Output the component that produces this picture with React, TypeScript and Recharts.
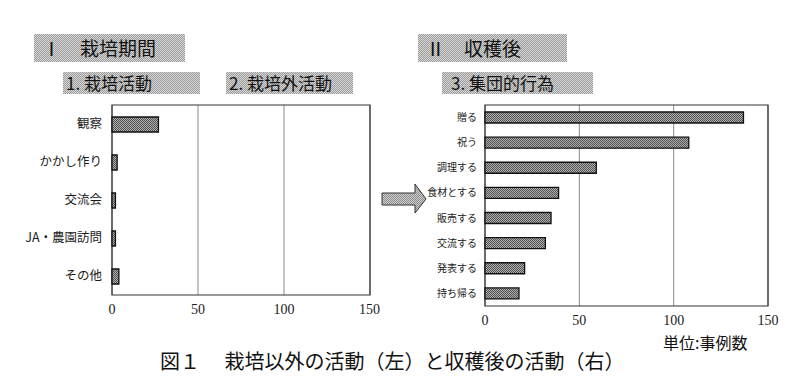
import React from "react";
import {
  BarChart,
  Bar,
  XAxis,
  YAxis,
  CartesianGrid,
  ReferenceArea,
} from "recharts";

// 栽培以外の活動（左）
const cultivationCategories = ["観察", "かかし作り", "交流会", "JA・農園訪問", "その他"];
const cultivationValues = [27, 3, 2, 2, 4];

// 収穫後の活動（右）
const harvestCategories = [
  "贈る",
  "祝う",
  "調理する",
  "食材とする",
  "販売する",
  "交流する",
  "発表する",
  "持ち帰る",
];
const harvestValues = [137, 108, 59, 39, 35, 32, 21, 18];

const xTicks = [0, 50, 100, 150];

const leftData = cultivationCategories.map((name, i) => ({
  name,
  value: cultivationValues[i],
}));
const rightData = harvestCategories.map((name, i) => ({
  name,
  value: harvestValues[i],
}));

const jp = '"Noto Sans CJK JP", "Noto Sans", sans-serif';
const serif = '"Liberation Serif", "DejaVu Serif", serif';

// 網掛け（ディザ風）の背景
const hatch = (dark: string, light: string): React.CSSProperties => ({
  backgroundColor: light,
  backgroundImage: `repeating-conic-gradient(${dark} 0% 25%, ${light} 0% 50%)`,
  backgroundSize: "2px 2px",
});

const Header = ({
  text,
  left,
  top,
  width,
  height,
  fontSize,
  pad,
}: {
  text: string;
  left: number;
  top: number;
  width: number;
  height: number;
  fontSize: number;
  pad: number;
}) => (
  <div
    style={{
      position: "absolute",
      left,
      top,
      width,
      height,
      ...hatch("#9a9a9a", "#d8d8d8"),
      fontFamily: jp,
      fontSize,
      color: "#111",
      lineHeight: `${height}px`,
      paddingLeft: pad,
      boxSizing: "border-box",
      whiteSpace: "pre",
    }}
  >
    {text}
  </div>
);

const BarPattern = ({ id }: { id: string }) => (
  <defs>
    <pattern id={id} width="2" height="2" patternUnits="userSpaceOnUse">
      <rect width="2" height="2" fill="#b0b0b0" />
      <rect width="1" height="1" fill="#505050" />
      <rect x="1" y="1" width="1" height="1" fill="#505050" />
    </pattern>
  </defs>
);

const App = () => {
  return (
    <div
      style={{
        position: "absolute",
        left: 0,
        top: 0,
        width: 800,
        height: 389,
        background: "#fff",
        overflow: "hidden",
      }}
    >
      {/* 見出し */}
      <Header text={"Ⅰ　栽培期間"} left={34} top={34} width={151} height={28} fontSize={19} pad={8} />
      <Header text={"1. 栽培活動"} left={63} top={72} width={137} height={22} fontSize={17} pad={3} />
      <Header text={"2. 栽培外活動"} left={226} top={72} width={127} height={22} fontSize={17} pad={3} />
      <Header text={"Ⅱ　収穫後"} left={418} top={34} width={149} height={28} fontSize={19} pad={8} />
      <Header text={"3. 集団的行為"} left={442} top={72} width={151} height={22} fontSize={17} pad={9} />

      {/* 左のグラフ */}
      <div style={{ position: "absolute", left: 0, top: 0 }}>
        <BarChart
          width={380}
          height={330}
          data={leftData}
          layout="vertical"
          margin={{ top: 105, right: 10, bottom: 5, left: 0 }}
          barSize={15}
        >
          <BarPattern id="hatchLeft" />
          <CartesianGrid horizontal={false} stroke="#8a8a8a" />
          <XAxis
            type="number"
            domain={[0, 150]}
            ticks={xTicks}
            axisLine={false}
            tickLine={false}
            tickSize={0}
            tickMargin={9}
            height={30}
            tick={{ fontFamily: serif, fontSize: 14, fill: "#1a1a1a" }}
          />
          <YAxis
            type="category"
            dataKey="name"
            width={112}
            axisLine={false}
            tickLine={false}
            tickSize={0}
            tickMargin={10}
            tick={{ fontFamily: jp, fontSize: 12.5, fill: "#1a1a1a" }}
          />
          <ReferenceArea x1={0} x2={150} fill="none" stroke="#333" strokeWidth={1.2} />
          <Bar
            dataKey="value"
            fill="url(#hatchLeft)"
            stroke="#111"
            strokeWidth={1.3}
            isAnimationActive={false}
          />
        </BarChart>
      </div>

      {/* 矢印 */}
      <svg
        width={800}
        height={389}
        style={{ position: "absolute", left: 0, top: 0, pointerEvents: "none" }}
      >
        <defs>
          <pattern id="hatchArrow" width="2" height="2" patternUnits="userSpaceOnUse">
            <rect width="2" height="2" fill="#d0d0d0" />
            <rect width="1" height="1" fill="#8a8a8a" />
            <rect x="1" y="1" width="1" height="1" fill="#8a8a8a" />
          </pattern>
        </defs>
        <polygon
          points="382,193 415,193 415,184 426,199 415,213 415,205 382,205"
          fill="url(#hatchArrow)"
          stroke="#333"
          strokeWidth={1}
        />
      </svg>

      {/* 右のグラフ */}
      <div style={{ position: "absolute", left: 380, top: 0 }}>
        <BarChart
          width={400}
          height={340}
          data={rightData}
          layout="vertical"
          margin={{ top: 105, right: 12, bottom: 4, left: 0 }}
          barSize={11}
        >
          <BarPattern id="hatchRight" />
          <CartesianGrid horizontal={false} stroke="#8a8a8a" />
          <XAxis
            type="number"
            domain={[0, 150]}
            ticks={xTicks}
            axisLine={false}
            tickLine={false}
            tickSize={0}
            tickMargin={9}
            height={30}
            tick={{ fontFamily: serif, fontSize: 14, fill: "#1a1a1a" }}
          />
          <YAxis
            type="category"
            dataKey="name"
            width={105}
            axisLine={false}
            tickLine={false}
            tickSize={0}
            tickMargin={8}
            tick={{ fontFamily: jp, fontSize: 10, fill: "#1a1a1a" }}
          />
          <ReferenceArea x1={0} x2={150} fill="none" stroke="#333" strokeWidth={1.2} />
          <Bar
            dataKey="value"
            fill="url(#hatchRight)"
            stroke="#111"
            strokeWidth={1.3}
            isAnimationActive={false}
          />
        </BarChart>
      </div>

      {/* 単位 */}
      <div
        style={{
          position: "absolute",
          left: 663,
          top: 332,
          fontFamily: jp,
          fontSize: 16,
          lineHeight: "20px",
          color: "#111",
          whiteSpace: "nowrap",
        }}
      >
        単位:事例数
      </div>

      {/* 図のタイトル */}
      <div
        style={{
          position: "absolute",
          left: 160,
          top: 349,
          fontFamily: jp,
          fontSize: 20,
          lineHeight: "24px",
          color: "#111",
          whiteSpace: "pre",
        }}
      >
        {"図１　 栽培以外の活動（左）と収穫後の活動（右）"}
      </div>
    </div>
  );
};

export default App;
